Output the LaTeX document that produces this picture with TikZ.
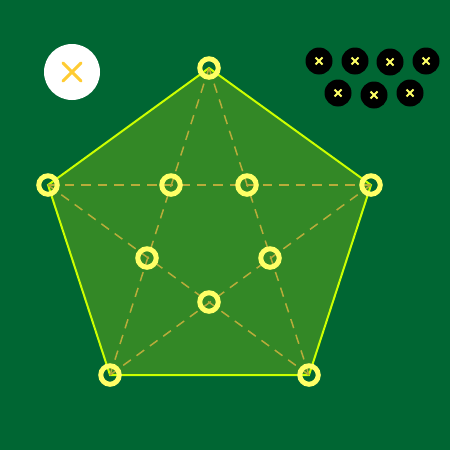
\documentclass[tikz,border=0pt]{standalone}
\usepackage{tikz}
\usetikzlibrary{positioning,calc}

\definecolor{bggreen}{RGB}{0,102,51}
\definecolor{pentafill}{RGB}{51,136,38}
\definecolor{lime}{RGB}{204,255,0}
\definecolor{ringyellow}{RGB}{255,255,102}
\definecolor{dashgold}{RGB}{184,172,58}
\definecolor{crossgold}{RGB}{255,204,51}

\tikzset{
    ring/.style={circle, draw=ringyellow, line width=5pt, minimum size=18.5pt, inner sep=0pt},
    diag/.style={draw=dashgold, line width=1.5pt, dash pattern=on 9.5pt off 7pt},
    token/.style={circle, fill=black, minimum size=27pt, inner sep=0pt},
    tokencross/.style={draw=ringyellow, line width=2pt},
}

\begin{document}
\begin{tikzpicture}[x=1pt, y=-1pt]
    % Background
    \fill[bggreen] (0,0) rectangle (450,450);
    \useasboundingbox (0,0) rectangle (450,450);

    % Pentagon corners
    \coordinate (top) at (209,68);
    \coordinate (right) at (371,185);
    \coordinate (botright) at (309,375);
    \coordinate (botleft) at (110,375);
    \coordinate (left) at (48,185);

    % Inner crossings
    \coordinate (inleft) at (171,185);
    \coordinate (inright) at (247,185);
    \coordinate (midleft) at (147,258);
    \coordinate (midright) at (270,258);
    \coordinate (inbot) at (209,302);

    % Pentagon
    \draw[fill=pentafill, draw=lime, line width=2pt, line join=miter]
        (top) -- (right) -- (botright) -- (botleft) -- (left) -- cycle;

    % Diagonals
    \draw[diag] (left) -- (right);
    \draw[diag] (top) -- (botleft);
    \draw[diag] (top) -- (botright);
    \draw[diag] (left) -- (botright);
    \draw[diag] (right) -- (botleft);

    % Rings
    \foreach \p in {top,right,botright,botleft,left,inleft,inright,midleft,midright,inbot}
        \node[ring] (ring-\p) at (\p) {};

    % Close button
    \node[circle, fill=white, minimum size=56pt, inner sep=0pt] (close) at (72,72) {};
    \draw[crossgold, line width=3pt, line cap=round]
        ($(close.center)+(-9,-9)$) -- ($(close.center)+(9,9)$)
        ($(close.center)+(-9,9)$) -- ($(close.center)+(9,-9)$);

    % Tokens
    \foreach \tx/\ty [count=\i] in {319/61, 355/61, 390/62, 426/61, 338/93, 374/95, 410/93} {
        \node[token] (tok\i) at (\tx,\ty) {};
        \draw[tokencross]
            ($(tok\i.center)+(-3.5,-3.5)$) -- ($(tok\i.center)+(3.5,3.5)$)
            ($(tok\i.center)+(-3.5,3.5)$) -- ($(tok\i.center)+(3.5,-3.5)$);
    }
\end{tikzpicture}
\end{document}
